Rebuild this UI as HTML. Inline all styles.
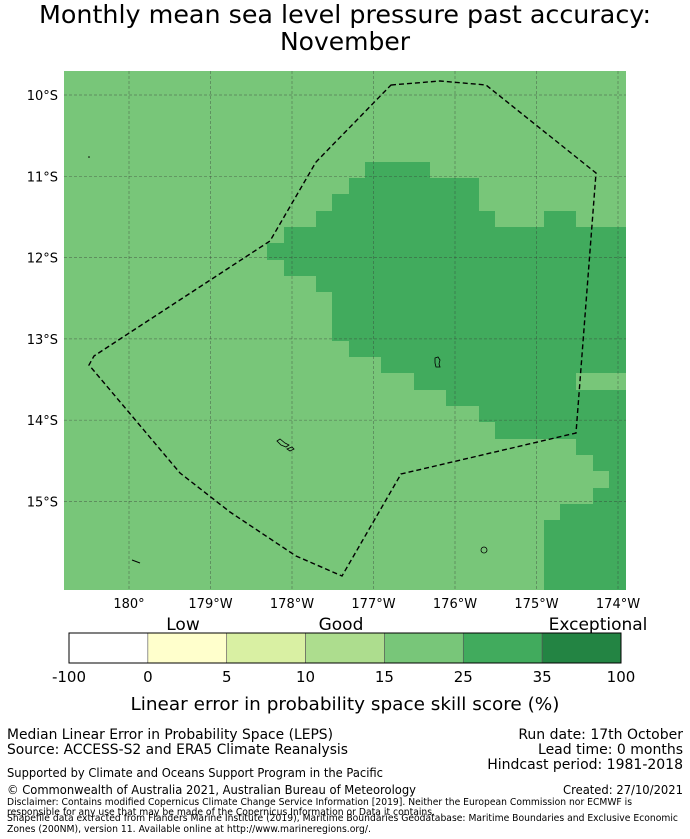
<!DOCTYPE html>
<html><head><meta charset="utf-8"><style>
html,body{margin:0;padding:0;background:#fff;}
svg{display:block;font-family:"DejaVu Sans","Liberation Sans",sans-serif;}
</style></head><body>
<svg id="fig" width="690" height="839" viewBox="0 0 690 839" xmlns="http://www.w3.org/2000/svg">
<text x="345" y="23" font-size="25" text-anchor="middle" textLength="612" lengthAdjust="spacingAndGlyphs">Monthly mean sea level pressure past accuracy:</text>
<text x="345" y="50" font-size="25" text-anchor="middle">November</text>
<g>
<rect x="64" y="71" width="562" height="519" fill="#78c679"/>
<polygon fill="#41ab5d" points="365,162 430,162 430,178 479,178 479,211 495,211 495,227 544,227 544,211 576,211 576,227 626,227 626,373 576,373 576,390 626,390 626,590 544,590 544,520 560,520 560,504 593,504 593,488 609,488 609,471 593,471 593,455 576,455 576,439 495,439 495,422 479,422 479,406 446,406 446,390 414,390 414,373 381,373 381,357 349,357 349,341 332,341 332,292 316,292 316,276 284,276 284,260 267,260 267,243 284,243 284,227 316,227 316,211 332,211 332,194 349,194 349,178 365,178"/>
<g id="grid"></g>
<polygon fill="none" stroke="#000" stroke-width="1.4" stroke-dasharray="5,3" points="391,85 440,81 486,85 596,173 576,433 401,474 342,576 296,556 230,512 180,473 89,365 94,356 270,241 316,162"/>
<path d="M435,358 l3,-1 2,3 -1,4 1,3 -4,0 -1,-4z" fill="none" stroke="#000" stroke-width="0.8"/>
<path d="M277,441 l3,-2 5,4 4,2 -3,2 -5,-2z M287,449 l5,-2 2,2 -4,2z" fill="none" stroke="#000" stroke-width="0.8"/>
<circle cx="484" cy="550" r="3" fill="none" stroke="#000" stroke-width="0.8"/>
<path d="M132,560 l8,3" stroke="#000" stroke-width="1"/>
<circle cx="89" cy="157" r="0.8" fill="#000"/>
</g>
<g id="ticks"></g>
<g id="cbar"></g>
<text x="183" y="630" font-size="17" text-anchor="middle">Low</text>
<text x="341" y="630" font-size="17" text-anchor="middle">Good</text>
<text x="598" y="630" font-size="17" text-anchor="middle">Exceptional</text>
<text x="345" y="710" font-size="18" text-anchor="middle" textLength="429" lengthAdjust="spacingAndGlyphs">Linear error in probability space skill score (%)</text>
<g font-size="14">
<text x="7" y="739" textLength="326" lengthAdjust="spacingAndGlyphs">Median Linear Error in Probability Space (LEPS)</text>
<text x="7" y="754" textLength="341" lengthAdjust="spacingAndGlyphs">Source: ACCESS-S2 and ERA5 Climate Reanalysis</text>
<text x="683" y="739" text-anchor="end">Run date: 17th October</text>
<text x="683" y="754" text-anchor="end">Lead time: 0 months</text>
<text x="683" y="769" text-anchor="end">Hindcast period: 1981-2018</text>
<text x="7" y="777" font-size="12" textLength="376" lengthAdjust="spacingAndGlyphs">Supported by Climate and Oceans Support Program in the Pacific</text>
<text x="7" y="794" font-size="12" textLength="409" lengthAdjust="spacingAndGlyphs">© Commonwealth of Australia 2021, Australian Bureau of Meteorology</text>
<text x="683" y="794" font-size="12" text-anchor="end" textLength="120" lengthAdjust="spacingAndGlyphs">Created: 27/10/2021</text>
<text x="7" y="805" font-size="9.5" textLength="625" lengthAdjust="spacingAndGlyphs">Disclaimer: Contains modified Copernicus Climate Change Service Information [2019]. Neither the European Commission nor ECMWF is</text>
<text x="7" y="815" font-size="9.5" textLength="428" lengthAdjust="spacingAndGlyphs">responsible for any use that may be made of the Copernicus Information or Data it contains.</text>
<text x="7" y="821" font-size="9.5" textLength="671" lengthAdjust="spacingAndGlyphs">Shapefile data extracted from Flanders Marine Institute (2019), Maritime Boundaries Geodatabase: Maritime Boundaries and Exclusive Economic</text>
<text x="7" y="832" font-size="9.5" textLength="364" lengthAdjust="spacingAndGlyphs">Zones (200NM), version 11. Available online at http://www.marineregions.org/.</text>
</g>
</svg>
<script>
const lonDegW=[0,1,2,3,4,5,6];
const lonLabels=["180°","179°W","178°W","177°W","176°W","175°W","174°W"];
const latDegS=[10,11,12,13,14,15];
const latLabels=["10°S","11°S","12°S","13°S","14°S","15°S"];
const cbTicks=["-100","0","5","10","15","25","35","100"];
const cbColors=["#ffffff","#ffffcc","#d9f0a3","#addd8e","#78c679","#41ab5d","#238443"];
const NS="http://www.w3.org/2000/svg";
const X=d=>129+d*81.5, Y=l=>95+(l-10)*81.3;
const grid=document.getElementById('grid'), ticks=document.getElementById('ticks'), cb=document.getElementById('cbar');
function mk(tag,at,parent){const e=document.createElementNS(NS,tag);for(const k in at)e.setAttribute(k,at[k]);parent.appendChild(e);return e;}
lonDegW.forEach((d,i)=>{
 const l=mk('line',{x1:X(d),x2:X(d),y1:71,y2:590,stroke:'#333','stroke-width':0.7,'stroke-opacity':0.5,'stroke-dasharray':'3,2'},grid);
 
 
 const t=mk('text',{x:X(d),y:608,'font-size':13,'text-anchor':'middle'},ticks);t.textContent=lonLabels[i];
 
 
});
latDegS.forEach((l,i)=>{
 const g=mk('line',{x1:64,x2:626,y1:Y(l),y2:Y(l),stroke:'#333','stroke-width':0.7,'stroke-opacity':0.5,'stroke-dasharray':'3,2'},grid);
 
 
 const t=mk('text',{x:58,y:Y(l)+5,'font-size':13,'text-anchor':'end'},ticks);t.textContent=latLabels[i];
 
 
});
const cx0=69,cw=552/cbColors.length;
cbColors.forEach((c,i)=>{
 const r=mk('rect',{x:cx0+i*cw,y:633,width:cw,height:30,fill:c,stroke:'#555','stroke-width':0.6},cb);
 
 
});
mk('rect',{x:cx0,y:633,width:552,height:30,fill:'none',stroke:'#000','stroke-width':1},cb);
cbTicks.forEach((s,i)=>{
 const t=mk('text',{x:cx0+i*cw,y:682,'font-size':15,'text-anchor':'middle'},cb);t.textContent=s;
 
 
});
</script>
</body></html>
